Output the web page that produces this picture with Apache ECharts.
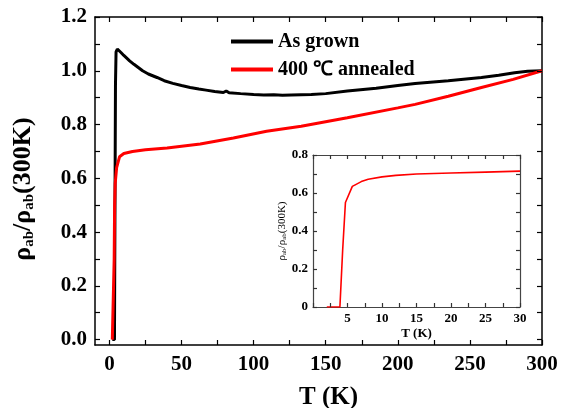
<!DOCTYPE html>
<html><head><meta charset="utf-8">
<script src="https://cdn.jsdelivr.net/npm/echarts@6/dist/echarts.min.js"></script>
<style>html,body{margin:0;padding:0;background:#fff}#c{width:565px;height:408px}</style>
</head><body><div id="c"></div>
<script>
// ---- data ----
var asGrownT = [2, 3.5, 3.9, 4.2, 4.6, 5.5, 6.5, 8, 10, 12, 14, 17, 20, 23, 27, 33, 38, 44, 50, 56, 62, 67, 73, 79, 81, 83, 91, 100, 107, 114, 120, 126, 133, 140, 150, 165, 185, 200, 212, 235, 258, 270, 281, 290, 300];
var asGrownR = [0, 0, 0.55, 0.95, 1.07, 1.081, 1.078, 1.068, 1.057, 1.047, 1.037, 1.024, 1.012, 1.0, 0.988, 0.975, 0.963, 0.953, 0.945, 0.938, 0.932, 0.928, 0.923, 0.919, 0.925, 0.918, 0.915, 0.912, 0.910, 0.911, 0.909, 0.910, 0.911, 0.912, 0.915, 0.925, 0.935, 0.945, 0.953, 0.963, 0.975, 0.983, 0.993, 0.998, 1.0];
var annealedT = [2, 3, 3.3, 3.6, 4, 5, 7, 10, 16, 25, 40, 63, 86, 109, 133, 165, 200, 212, 235, 258, 280, 300];
var annealedR = [0, 0, 0.3, 0.5, 0.58, 0.64, 0.68, 0.692, 0.70, 0.706, 0.713, 0.728, 0.75, 0.775, 0.794, 0.825, 0.862, 0.875, 0.905, 0.938, 0.968, 1.0];
var insetT = [2, 3.9, 4.3, 4.7, 5.7, 7, 8, 10, 12, 15, 20, 25, 30];
var insetR = [0, 0, 0.3, 0.55, 0.635, 0.66, 0.672, 0.685, 0.693, 0.70, 0.705, 0.71, 0.715];
var mainXLabels = [0, 50, 100, 150, 200, 250, 300];
var mainYLabels = [0, 0.2, 0.4, 0.6, 0.8, 1.0, 1.2];
var seriesNames = ['As grown', '400 \u2103 annealed'];

function zip(a, b) { return a.map(function (v, i) { return [v, b[i]]; }); }

var FONT = '"Liberation Serif","Times New Roman",serif';
var chart = echarts.init(document.getElementById('c'));

var GL = 95, GR = 23, GT = 17, GB = 63;
var plotW = 565 - GL - GR, plotH = 408 - GT - GB;
var x0px = GL + 10 * plotW / 310;            // pixel of T = 0
var y0fromBottom = GB + 0.02 * plotH / 1.22; // offset of value 0 from bottom

function mainX(pos, showLabel) {
  return {
    type: 'value', gridIndex: 0, position: pos, min: -10, max: 300,
    axisLine: { show: true, onZero: false, lineStyle: { color: '#000', width: 1.5 } },
    axisTick: { show: false },
    axisLabel: { show: showLabel, customValues: mainXLabels, fontFamily: FONT, fontWeight: 'bold', fontSize: 21, color: '#000', margin: 9 },
    splitLine: { show: false },
    name: showLabel ? 'T (K)' : '', nameLocation: 'middle', nameGap: 40,
    nameTextStyle: { fontFamily: FONT, fontWeight: 'bold', fontSize: 25, color: '#000', padding: [0, 0, 0, 20] }
  };
}
function mainY(pos, showLabel) {
  return {
    type: 'value', gridIndex: 0, position: pos, min: -0.02, max: 1.2,
    axisLine: { show: true, onZero: false, lineStyle: { color: '#000', width: 1.5 } },
    axisTick: { show: false },
    axisLabel: { show: showLabel, customValues: mainYLabels, formatter: function (v) { return v.toFixed(1); }, fontFamily: FONT, fontWeight: 'bold', fontSize: 21, color: '#000', margin: 8 },
    splitLine: { show: false },
    name: showLabel ? '\u03c1{s|ab}/\u03c1{s|ab}(300K)' : '', nameLocation: 'middle', nameGap: 58, nameRotate: 90,
    nameTextStyle: {
      fontFamily: FONT, fontWeight: 'bold', fontSize: 26, color: '#000', padding: [0, 16, 0, 0],
      rich: { s: { fontFamily: FONT, fontWeight: 'bold', fontSize: 15, color: '#000', padding: [13, 0, 0, 0] } }
    }
  };
}
// tick-only axis: shifted inward by its tick length, ticks pointing outward -> look like inside ticks
function tickAxis(grid, pos, min, max, interval, len, col) {
  return {
    type: 'value', gridIndex: grid, position: pos, offset: -len, min: min, max: max, interval: interval,
    axisLine: { show: true, onZero: false, lineStyle: { color: 'rgba(0,0,0,0)' } },
    axisTick: { show: true, inside: false, length: len, lineStyle: { color: col, width: 1.2 } },
    axisLabel: { show: false }, splitLine: { show: false }, z: 10
  };
}
function hiddenAxis(grid) {
  return { type: 'value', gridIndex: grid, show: false, min: 0, max: 1, splitLine: { show: false } };
}
var insetAxisColor = '#333';
function insetX(pos, showLabel) {
  return {
    type: 'value', gridIndex: 1, position: pos, min: 0, max: 30, interval: 5,
    axisLine: { show: true, onZero: false, lineStyle: { color: '#444', width: 1.2 } },
    axisTick: { show: false },
    axisLabel: { show: showLabel, showMinLabel: false, fontFamily: FONT, fontWeight: 'bold', fontSize: 13, color: '#000', margin: 5 },
    splitLine: { show: false },
    name: showLabel ? 'T (K)' : '', nameLocation: 'middle', nameGap: 20,
    nameTextStyle: { fontFamily: FONT, fontWeight: 'bold', fontSize: 13, color: '#000' }
  };
}
function insetY(pos, showLabel) {
  return {
    type: 'value', gridIndex: 1, position: pos, min: 0, max: 0.8, interval: 0.2,
    axisLine: { show: true, onZero: false, lineStyle: { color: '#444', width: 1.2 } },
    axisTick: { show: false },
    axisLabel: { show: showLabel, formatter: function (v) { return v === 0 ? '0' : v.toFixed(1); }, fontFamily: FONT, fontWeight: 'bold', fontSize: 13, color: '#000', margin: 5 },
    splitLine: { show: false },
    name: showLabel ? '\u03c1{s|ab}/\u03c1{s|ab}(300K)' : '', nameLocation: 'middle', nameGap: 24, nameRotate: 90,
    nameTextStyle: {
      fontFamily: FONT, fontSize: 11, color: '#000',
      rich: { s: { fontFamily: FONT, fontSize: 7, color: '#000', padding: [5, 0, 0, 0] } }
    }
  };
}

var noBounds = { outerBoundsMode: 'none', containLabel: false };
function g(o) { return Object.assign({}, noBounds, o); }

chart.setOption({
  backgroundColor: '#fff',
  animation: false,
  grid: [
    g({ left: GL, top: GT, right: GR, bottom: GB }),
    g({ left: 313, top: 155, width: 207, height: 152, show: true, backgroundColor: '#fff', borderWidth: 0 }),
    g({ left: GL, right: GR, top: GT, bottom: y0fromBottom }),
    g({ left: x0px, right: GR, top: GT, bottom: GB })
  ],
  legend: {
    data: seriesNames, orient: 'vertical', left: 226, top: 26, itemGap: 7,
    itemWidth: 42, itemHeight: 4, icon: 'rect',
    textStyle: { fontFamily: FONT, fontWeight: 'bold', fontSize: 20, color: '#000', lineHeight: 21 }
  },
  xAxis: [mainX('bottom', true), mainX('top', false), insetX('bottom', true), insetX('top', false),
          hiddenAxis(2), tickAxis(3, 'bottom', 0, 300, 25, 5, '#000'), tickAxis(3, 'top', 0, 300, 25, 5, '#000'),
          tickAxis(1, 'bottom', 0, 30, 2.5, 4, insetAxisColor), tickAxis(1, 'top', 0, 30, 2.5, 4, insetAxisColor)],
  yAxis: [mainY('left', true), mainY('right', false), insetY('left', true), insetY('right', false),
          tickAxis(2, 'left', 0, 1.2, 0.1, 5, '#000'), tickAxis(2, 'right', 0, 1.2, 0.1, 5, '#000'), hiddenAxis(3),
          tickAxis(1, 'left', 0, 0.8, 0.1, 4, insetAxisColor), tickAxis(1, 'right', 0, 0.8, 0.1, 4, insetAxisColor)],
  series: [
    { name: seriesNames[0], type: 'line', xAxisIndex: 0, yAxisIndex: 0, data: zip(asGrownT, asGrownR), showSymbol: false, symbol: 'none', lineStyle: { color: '#000', width: 3 }, itemStyle: { color: '#000' } },
    { name: seriesNames[1], type: 'line', xAxisIndex: 0, yAxisIndex: 0, data: zip(annealedT, annealedR), showSymbol: false, symbol: 'none', lineStyle: { color: '#f00', width: 3 }, itemStyle: { color: '#f00' } },
    { name: 'inset', type: 'line', xAxisIndex: 2, yAxisIndex: 2, data: zip(insetT, insetR), showSymbol: false, symbol: 'none', lineStyle: { color: '#f00', width: 1.6 }, itemStyle: { color: '#f00' } }
  ]
});
</script></body></html>
